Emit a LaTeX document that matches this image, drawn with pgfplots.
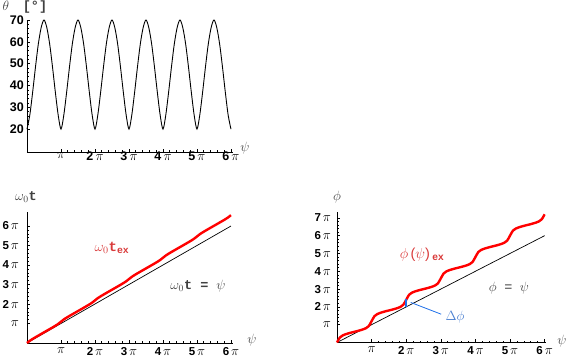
\RequirePackage{fix-cm}
\documentclass[border=0pt]{standalone}
\usepackage{pgfplots}
\pgfplotsset{compat=1.18}
\usepackage{pgfplotstable}
\usepackage{fontspec}
\setmainfont{Liberation Sans}
\newfontfamily\cour{Liberation Mono}
\definecolor{lab}{HTML}{404040}
\definecolor{redc}{HTML}{FF0000}
\definecolor{redt}{HTML}{D93A3A}
\definecolor{bluec}{HTML}{1E6FE8}
\definecolor{bluet}{HTML}{4A7FD0}
\newcommand{\p}{{\fontsize{13.5}{13}\selectfont$\pi$}}

\pgfplotstableread{
x theta omt phi
0 20 0 0
0.0833 26.5 0.1157 0.28
0.1667 37 0.2095 0.40
0.25 48.5 0.2958 0.465
0.3333 59 0.3800 0.515
0.4167 66.5 0.4636 0.56
0.5 70 0.5465 0.60
0.5833 66.5 0.6294 0.64
0.6667 59 0.7130 0.685
0.75 48.5 0.7972 0.735
0.8333 37 0.8835 0.80
0.9167 26.5 0.9774 0.92
1 20 1.093 1.20
1.0833 26.5 1.2087 1.48
1.1667 37 1.3025 1.60
1.25 48.5 1.3888 1.665
1.3333 59 1.4730 1.715
1.4167 66.5 1.5566 1.76
1.5 70 1.6395 1.80
1.5833 66.5 1.7224 1.84
1.6667 59 1.8060 1.885
1.75 48.5 1.8902 1.935
1.8333 37 1.9765 2.00
1.9167 26.5 2.0704 2.12
2 20 2.186 2.40
2.0833 26.5 2.3017 2.68
2.1667 37 2.3955 2.80
2.25 48.5 2.4818 2.865
2.3333 59 2.5660 2.915
2.4167 66.5 2.6496 2.96
2.5 70 2.7325 3.00
2.5833 66.5 2.8154 3.04
2.6667 59 2.8990 3.085
2.75 48.5 2.9832 3.135
2.8333 37 3.0695 3.20
2.9167 26.5 3.1634 3.32
3 20 3.279 3.60
3.0833 26.5 3.3947 3.88
3.1667 37 3.4885 4.00
3.25 48.5 3.5748 4.065
3.3333 59 3.6590 4.115
3.4167 66.5 3.7426 4.16
3.5 70 3.8255 4.20
3.5833 66.5 3.9084 4.24
3.6667 59 3.9920 4.285
3.75 48.5 4.0762 4.335
3.8333 37 4.1625 4.40
3.9167 26.5 4.2564 4.52
4 20 4.372 4.80
4.0833 26.5 4.4877 5.08
4.1667 37 4.5815 5.20
4.25 48.5 4.6678 5.265
4.3333 59 4.7520 5.315
4.4167 66.5 4.8356 5.36
4.5 70 4.9185 5.40
4.5833 66.5 5.0014 5.44
4.6667 59 5.0850 5.485
4.75 48.5 5.1692 5.535
4.8333 37 5.2555 5.60
4.9167 26.5 5.3494 5.72
5 20 5.465 6.00
5.0833 26.5 5.5807 6.28
5.1667 37 5.6745 6.40
5.25 48.5 5.7608 6.465
5.3333 59 5.8450 6.515
5.4167 66.5 5.9286 6.56
5.5 70 6.0115 6.60
5.5833 66.5 6.0944 6.64
5.6667 59 6.1780 6.685
5.75 48.5 6.2622 6.735
5.8333 37 6.3485 6.80
5.9167 26.5 6.4424 6.92
6 20 6.558 7.20
}\data

\pgfplotsset{mystyle/.style={
  scale only axis, axis lines=left,
  axis line style={-, line width=0.8pt, black},
  tick align=inside, major tick length=3pt, minor tick length=1.6pt,
  tick style={black, line width=0.6pt},
  xmin=0, xtick={1,...,6},
  xticklabels={\p,\textbf{2}\,\p,\textbf{3}\,\p,\textbf{4}\,\p,\textbf{5}\,\p,\textbf{6}\,\p},
  minor x tick num=4, clip=false, anchor=south west}}

\begin{document}
\begin{tikzpicture}
\useasboundingbox (0,0) rectangle (566pt,359pt);

% top panel: theta
\begin{axis}[mystyle, at={(27pt,207pt)}, width=206pt, height=132pt,
  xmax=6.06, ymin=9.5, ymax=70,
  ytick={20,30,...,70}, minor y tick num=4,
  yticklabels={\textbf{20},\textbf{30},\textbf{40},\textbf{50},\textbf{60},\textbf{70}},
  tick label style={font=\fontsize{12.5}{13}\selectfont},
  xticklabel style={inner sep=1pt, yshift=1pt},
  yticklabel style={inner sep=1pt, xshift=-2pt}]
\addplot[black, line width=0.9pt, smooth] table[x=x,y=theta]{\data};
\end{axis}

% bottom-left: omega0 t
\begin{axis}[mystyle, at={(27pt,16pt)}, width=206pt, height=131pt,
  xmax=6.06, ymin=0, ymax=6.72,
  ytick={1,...,6}, minor y tick num=4,
  yticklabels={\p,\textbf{2}\,\p,\textbf{3}\,\p,\textbf{4}\,\p,\textbf{5}\,\p,\textbf{6}\,\p},
  tick label style={font=\fontsize{11.5}{12}\selectfont},
  xticklabel style={inner sep=1pt, yshift=-3pt},
  yticklabel style={inner sep=1pt, xshift=-7pt}]
\addplot[black, line width=0.7pt] coordinates {(0,0) (6,6)};
\addplot[redc, line width=2.4pt, smooth] table[x=x,y=omt]{\data};
\end{axis}

% bottom-right: phi
\begin{axis}[mystyle, at={(337pt,16.5pt)}, width=209pt, height=130.5pt,
  xmax=6.04, ymin=0, ymax=7.33,
  ytick={1,...,7}, minor y tick num=4,
  yticklabels={\p,\textbf{2}\,\p,\textbf{3}\,\p,\textbf{4}\,\p,\textbf{5}\,\p,\textbf{6}\,\p,\textbf{7}\,\p},
  tick label style={font=\fontsize{11.5}{12}\selectfont},
  xticklabel style={inner sep=1pt, yshift=-3pt},
  yticklabel style={inner sep=1pt, xshift=-5pt}]
\addplot[black, line width=0.7pt] coordinates {(0,0) (6,6)};
\addplot[redc, line width=2.4pt, smooth] table[x=x,y=phi]{\data};
\addplot[bluec, line width=1.6pt] coordinates {(2,2) (2,2.42)};
\addplot[bluec, line width=0.8pt] coordinates {(2.13,2.25) (3.01,1.59)};
\end{axis}

% labels
\begin{scope}[every node/.style={font=\fontsize{13.5}{14}\selectfont, text=lab, inner sep=0pt}]
\node at (6pt,353pt) {$\theta$};
\node at (35pt,352pt) {{\cour\bfseries [°]}};
\node at (245pt,211pt) {$\psi$};
\node at (26pt,162pt) {$\omega_0${\cour\bfseries t}};
\node at (252pt,19pt) {$\psi$};
\node[text=redt, font=\fontsize{14}{15}\selectfont] at (112pt,111pt) {$\omega_0${\cour\bfseries t}\textsubscript{\cour\bfseries ex}};
\node at (198pt,73pt) {$\omega_0${\cour\bfseries t\ =\ }$\psi$};
\node at (337pt,162pt) {$\phi$};
\node at (562pt,18pt) {$\psi$};
\node[text=redt, font=\fontsize{14.5}{16}\selectfont] at (422pt,104pt) {$\phi$\,($\psi$)\,\textsubscript{\bfseries ex}};
\node at (509pt,71pt) {$\phi$\ \ {\cour =}\ \ $\psi$};
\node[text=bluet, font=\fontsize{13.5}{15}\selectfont] at (455pt,42pt) {$\Delta\phi$};
\end{scope}
\end{tikzpicture}
\end{document}
